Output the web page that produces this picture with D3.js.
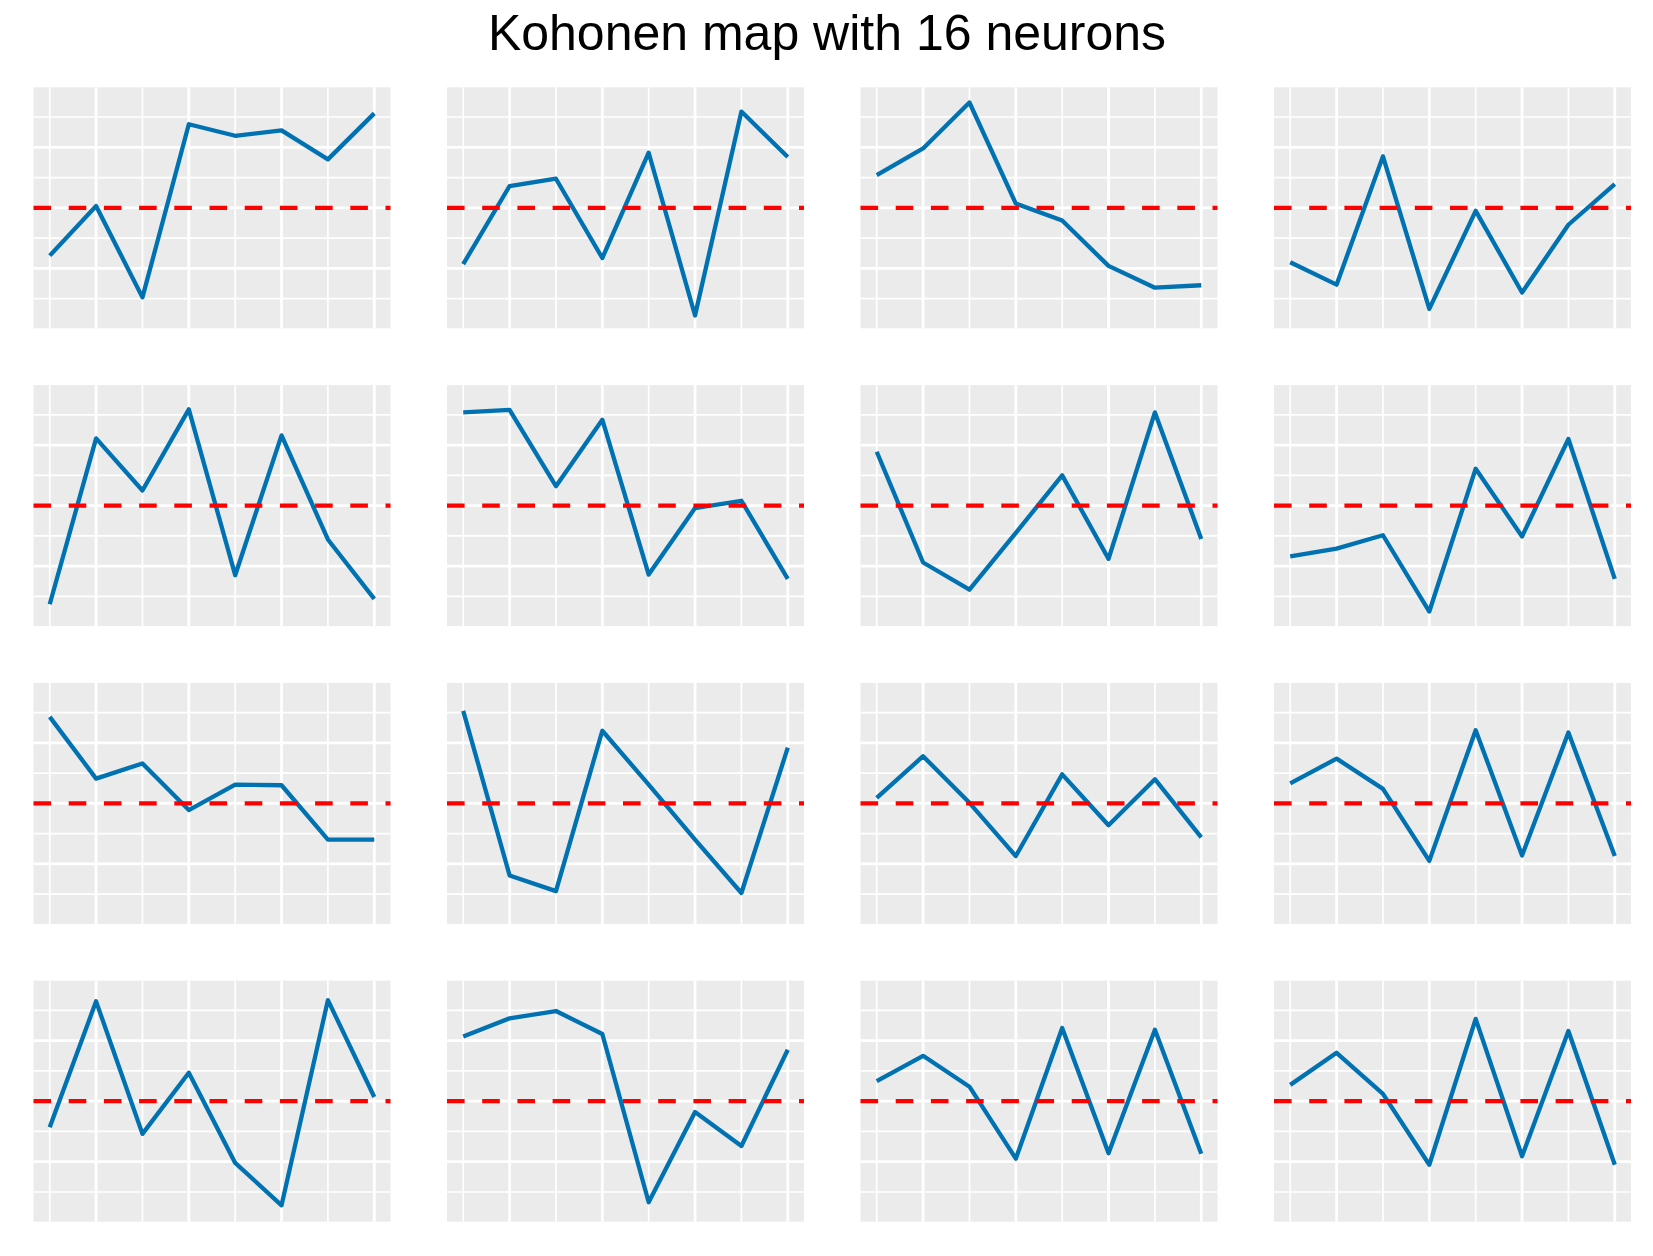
<!DOCTYPE html>
<html>
<head>
<meta charset="utf-8">
<script src="https://cdn.jsdelivr.net/npm/d3@7"></script>
<style>
  html, body { margin: 0; padding: 0; background: #ffffff; }
  svg { display: block; }
</style>
</head>
<body>
<div id="chart"></div>
<script>
// ---- data ----
const chartTitle = "Kohonen map with 16 neurons";
const variables = [1, 2, 3, 4, 5, 6, 7, 8];

const n01 = [-0.79, 0.03, -1.48, 1.38, 1.19, 1.28, 0.80, 1.56];
const n02 = [-0.93, 0.36, 0.48, -0.83, 0.91, -1.78, 1.59, 0.84];
const n03 = [0.54, 0.98, 1.74, 0.07, -0.21, -0.96, -1.32, -1.28];
const n04 = [-0.90, -1.27, 0.85, -1.67, -0.05, -1.40, -0.28, 0.39];
const n05 = [-1.63, 1.11, 0.25, 1.59, -1.15, 1.16, -0.56, -1.54];
const n06 = [1.54, 1.58, 0.32, 1.42, -1.14, -0.04, 0.08, -1.21];
const n07 = [0.89, -0.94, -1.39, -0.45, 0.50, -0.88, 1.54, -0.55];
const n08 = [-0.84, -0.71, -0.49, -1.75, 0.61, -0.51, 1.10, -1.21];
const n09 = [1.43, 0.41, 0.66, -0.11, 0.31, 0.30, -0.60, -0.60];
const n10 = [1.53, -1.19, -1.45, 1.20, 0.31, -0.60, -1.48, 0.92];
const n11 = [0.09, 0.78, 0.01, -0.87, 0.48, -0.36, 0.40, -0.56];
const n12 = [0.33, 0.74, 0.24, -0.95, 1.21, -0.86, 1.17, -0.87];
const n13 = [-0.43, 1.65, -0.54, 0.47, -1.02, -1.72, 1.67, 0.07];
const n14 = [1.07, 1.37, 1.49, 1.11, -1.67, -0.18, -0.74, 0.85];
const n15 = [0.33, 0.75, 0.24, -0.95, 1.21, -0.86, 1.18, -0.87];
const n16 = [0.27, 0.80, 0.12, -1.05, 1.36, -0.91, 1.16, -1.05];

const neurons = [n01, n02, n03, n04, n05, n06, n07, n08,
                 n09, n10, n11, n12, n13, n14, n15, n16];

const yLimits = [-1.81, 1.81];
const xMajorTicks = [2, 4, 6, 8];
const xMinorTicks = [1, 3, 5, 7];
const yMajorTicks = [-1, 0, 1];
const yMinorTicks = [-1.5, -0.5, 0.5, 1.5];
const referenceValue = 0;

// ---- layout ----
const W = 1653, H = 1256;
const nCols = 4;
const panelW = 357, panelH = 241;
const left0 = 33.5, top0 = 87.3;
const colStep = 413.5, rowStep = 297.8;

const svg = d3.select("#chart").append("svg")
  .attr("width", W).attr("height", H)
  .attr("viewBox", `0 0 ${W} ${H}`);

svg.append("rect").attr("width", W).attr("height", H).attr("fill", "#ffffff");

svg.append("text")
  .attr("x", 827).attr("y", 50)
  .attr("text-anchor", "middle")
  .attr("font-family", "'Liberation Sans', Arial, Helvetica, sans-serif")
  .attr("font-size", 50)
  .attr("fill", "#000000")
  .text(chartTitle);

// scales (ggplot-like 5% expansion)
const xExt = d3.extent(variables);
const xPad = (xExt[1] - xExt[0]) * 0.05;
const x = d3.scaleLinear().domain([xExt[0] - xPad, xExt[1] + xPad]).range([0, panelW]);
const yPad = (yLimits[1] - yLimits[0]) * 0.05;
const y = d3.scaleLinear().domain([yLimits[0] - yPad, yLimits[1] + yPad]).range([panelH, 0]);

const line = d3.line()
  .x((d, i) => x(variables[i]))
  .y(d => y(d));

neurons.forEach((vals, k) => {
  const col = k % nCols, row = Math.floor(k / nCols);
  const g = svg.append("g")
    .attr("transform", `translate(${left0 + col * colStep},${top0 + row * rowStep})`);

  g.append("rect").attr("width", panelW).attr("height", panelH).attr("fill", "#EBEBEB");

  // minor grid
  g.selectAll(".vxmin").data(xMinorTicks).enter().append("line")
    .attr("x1", d => x(d)).attr("x2", d => x(d))
    .attr("y1", 0).attr("y2", panelH)
    .attr("stroke", "#ffffff").attr("stroke-width", 1.7);
  g.selectAll(".hymin").data(yMinorTicks).enter().append("line")
    .attr("y1", d => y(d)).attr("y2", d => y(d))
    .attr("x1", 0).attr("x2", panelW)
    .attr("stroke", "#ffffff").attr("stroke-width", 1.7);
  // major grid
  g.selectAll(".vxmaj").data(xMajorTicks).enter().append("line")
    .attr("x1", d => x(d)).attr("x2", d => x(d))
    .attr("y1", 0).attr("y2", panelH)
    .attr("stroke", "#ffffff").attr("stroke-width", 2.8);
  g.selectAll(".hymaj").data(yMajorTicks).enter().append("line")
    .attr("y1", d => y(d)).attr("y2", d => y(d))
    .attr("x1", 0).attr("x2", panelW)
    .attr("stroke", "#ffffff").attr("stroke-width", 2.8);

  // data line
  g.append("path")
    .datum(vals)
    .attr("d", line)
    .attr("fill", "none")
    .attr("stroke", "#0072B2")
    .attr("stroke-width", 4.3)
    .attr("stroke-linejoin", "round")
    .attr("stroke-linecap", "butt");

  // reference dashed line
  g.append("line")
    .attr("x1", 0).attr("x2", panelW)
    .attr("y1", y(referenceValue)).attr("y2", y(referenceValue))
    .attr("stroke", "#FF0000")
    .attr("stroke-width", 4.3)
    .attr("stroke-dasharray", "17.6,17.6");
});
</script>
</body>
</html>
